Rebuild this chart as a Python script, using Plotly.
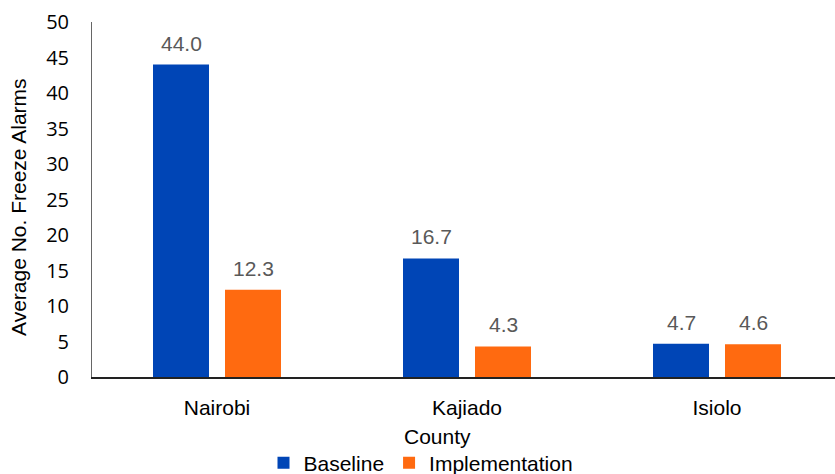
import plotly.graph_objects as go

counties = ["Nairobi", "Kajiado", "Isiolo"]
baseline = [44.0, 16.7, 4.7]
implementation = [12.3, 4.3, 4.6]
series_names = ["Baseline", "Implementation"]
y_ticks = [0, 5, 10, 15, 20, 25, 30, 35, 40, 45, 50]

BLUE = "#0045B6"
ORANGE = "#FF6A10"
LABEL_GRAY = "#595959"
FONT = "Liberation Sans, Arial"

fig = go.Figure()
xs = list(range(len(counties)))
fig.add_trace(go.Bar(x=xs, y=baseline, name=series_names[0], marker=dict(color=BLUE, line=dict(width=0)),
                     width=0.224, offset=-0.256))
fig.add_trace(go.Bar(x=xs, y=implementation, name=series_names[1], marker=dict(color=ORANGE, line=dict(width=0)),
                     width=0.224, offset=0.032))

for i, v in enumerate(baseline):
    fig.add_annotation(x=i - 0.144, y=v, text=f"{v:.1f}", showarrow=False, yanchor="bottom", yshift=8,
                       font=dict(family=FONT, size=21, color=LABEL_GRAY))
for i, v in enumerate(implementation):
    fig.add_annotation(x=i + 0.144, y=v, text=f"{v:.1f}", showarrow=False, yanchor="bottom", yshift=8,
                       font=dict(family=FONT, size=21, color=LABEL_GRAY))

fig.add_annotation(text="County", xref="paper", yref="paper", x=(437 - 92) / 743, y=(377 - 436) / 355,
                   showarrow=False, xanchor="center", yanchor="middle",
                   font=dict(family=FONT, size=21, color="#000000"))
fig.add_annotation(text="Average No. Freeze Alarms", xref="paper", yref="paper", x=(18 - 92) / 743,
                   y=(377 - 207) / 355, textangle=-90, showarrow=False, xanchor="center", yanchor="middle",
                   font=dict(family=FONT, size=21, color="#000000"))

fig.update_layout(
    width=835, height=474,
    margin=dict(l=92, r=0, t=22, b=97, autoexpand=False),
    paper_bgcolor="white", plot_bgcolor="white",
    showlegend=True,
    legend=dict(orientation="h", x=(421 - 92) / 743, xanchor="center", y=(377 - 463) / 355, yanchor="middle",
                font=dict(family=FONT, size=21, color="#000000"),
                itemwidth=30, tracegroupgap=0, bgcolor="rgba(0,0,0,0)"),
    xaxis=dict(tickmode="array", tickvals=xs, ticktext=counties, range=[-0.5, 2.472],
               showline=True, linecolor="#222222", linewidth=2, showgrid=False, zeroline=False,
               ticks="", ticklabelstandoff=11,
               tickfont=dict(family=FONT, size=21, color="#000000")),
    yaxis=dict(range=[0, 50], tickmode="array", tickvals=y_ticks, showline=True, linecolor="#666666",
               linewidth=1, showgrid=False, zeroline=False, ticks="", ticklabelstandoff=18,
               tickfont=dict(family="Open Sans", size=20, color="#000000")),
)

fig.write_html("out.html")
